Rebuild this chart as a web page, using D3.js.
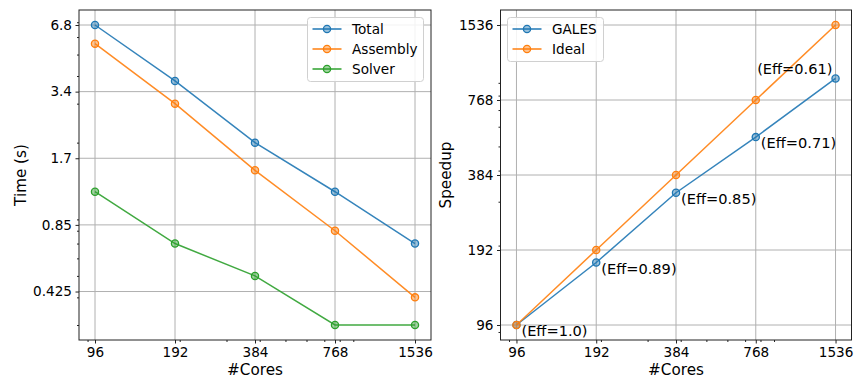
<!DOCTYPE html>
<html>
<head>
<meta charset="utf-8">
<script src="https://cdn.jsdelivr.net/npm/d3@7"></script>
<style>
  body { margin: 0; background: #fff; }
  text { font-family: "DejaVu Sans", sans-serif; fill: #000; }
</style>
</head>
<body>
<svg id="chart" width="862" height="381"></svg>
<script>
// data
const cores = [96, 192, 384, 768, 1536];
const coreLabels = ["96", "192", "384", "768", "1536"];

const totalTime = [6.8, 3.8, 2.0, 1.2, 0.7];
const assemblyTime = [5.6, 3.0, 1.5, 0.8, 0.4];
const solverTime = [1.2, 0.7, 0.5, 0.3, 0.3];
const timeTicks = [0.425, 0.85, 1.7, 3.4, 6.8];

const galesSpeedup = [96, 171, 326, 545, 937];
const idealSpeedup = [96, 192, 384, 768, 1536];
const speedupTicks = [96, 192, 384, 768, 1536];
const effLabels = ["(Eff=1.0)", "(Eff=0.89)", "(Eff=0.85)", "(Eff=0.71)", "(Eff=0.61)"];

const BLUE = "#1f77b4", ORANGE = "#ff7f0e", GREEN = "#2ca02c";
const TICK_FONT = 13.6;

var svg = d3.select("#chart");

// log margin like matplotlib (5% each side)
function logDomain(lo, hi) {
  var r = Math.pow(hi / lo, 0.05);
  return [lo / r, hi * r];
}

// base-10 minor ticks (2..9 per decade) inside a domain
function minorTicks(dom) {
  var out = [];
  for (var e = Math.floor(Math.log10(dom[0])) - 1; e <= Math.ceil(Math.log10(dom[1])); e++) {
    for (var k = 2; k <= 9; k++) {
      var v = k * Math.pow(10, e);
      if (v >= dom[0] && v <= dom[1]) out.push(v);
    }
  }
  return out;
}

function drawPanel(cfg) {
  var g = svg.append("g");
  var x = d3.scaleLog().domain(logDomain(cores[0], cores[cores.length - 1]))
    .range([cfg.left, cfg.right]);
  var yDom = logDomain(cfg.yMin, cfg.yMax);
  var y = d3.scaleLog().domain(yDom).range([cfg.bottom, cfg.top]);

  // grid
  g.append("g").selectAll("line").data(cores).join("line")
    .attr("x1", d => x(d)).attr("x2", d => x(d))
    .attr("y1", cfg.top).attr("y2", cfg.bottom)
    .attr("stroke", "#b0b0b0").attr("stroke-width", 1);
  g.append("g").selectAll("line").data(cfg.yTicks).join("line")
    .attr("y1", d => y(d)).attr("y2", d => y(d))
    .attr("x1", cfg.left).attr("x2", cfg.right)
    .attr("stroke", "#b0b0b0").attr("stroke-width", 1);

  // minor ticks
  var xMinor = d3.axisBottom(x).tickValues(minorTicks(x.domain())).tickSize(2).tickFormat("");
  var yMinor = d3.axisLeft(y).tickValues(minorTicks(yDom)).tickSize(2).tickFormat("");
  g.append("g").attr("transform", `translate(0,${cfg.bottom})`).call(xMinor);
  g.append("g").attr("transform", `translate(${cfg.left},0)`).call(yMinor);

  // major axes
  var xAxis = d3.axisBottom(x).tickValues(cores)
    .tickFormat((d, i) => coreLabels[i]).tickSize(3.5).tickPadding(3.5);
  var yAxis = d3.axisLeft(y).tickValues(cfg.yTicks)
    .tickFormat(cfg.yFormat).tickSize(3.5).tickPadding(3.5);
  g.append("g").attr("transform", `translate(0,${cfg.bottom})`).call(xAxis);
  g.append("g").attr("transform", `translate(${cfg.left},0)`).call(yAxis);
  g.selectAll(".domain").remove();
  g.selectAll(".tick line").attr("stroke", "#222");
  g.selectAll(".tick text").attr("font-size", TICK_FONT).attr("fill", "#000");

  // frame
  g.append("rect")
    .attr("x", cfg.left).attr("y", cfg.top)
    .attr("width", cfg.right - cfg.left).attr("height", cfg.bottom - cfg.top)
    .attr("fill", "none").attr("stroke", "#222").attr("stroke-width", 1);

  // series
  var line = d3.line().x(d => x(d[0])).y(d => y(d[1]));
  cfg.series.forEach(function (s) {
    var pts = cores.map((c, i) => [c, s.values[i]]);
    g.append("path").datum(pts).attr("d", line)
      .attr("fill", "none").attr("stroke", s.color)
      .attr("stroke-width", 1.5).attr("stroke-opacity", 0.9);
    g.append("g").selectAll("circle").data(pts).join("circle")
      .attr("cx", d => x(d[0])).attr("cy", d => y(d[1])).attr("r", 3.6)
      .attr("fill", s.color).attr("fill-opacity", 0.45)
      .attr("stroke", s.color).attr("stroke-width", 1.3);
  });

  // axis labels
  g.append("text")
    .attr("x", (cfg.left + cfg.right) / 2).attr("y", 375)
    .attr("text-anchor", "middle").attr("font-size", 15.2)
    .text("#Cores");
  g.append("text")
    .attr("transform", `translate(${cfg.yLabelX},175) rotate(-90)`)
    .attr("text-anchor", "middle").attr("font-size", 15.2)
    .text(cfg.yLabel);

  // legend
  var leg = g.append("g").attr("transform", `translate(${cfg.legendX},17.5)`);
  leg.append("rect")
    .attr("width", cfg.legendW).attr("height", 20 * cfg.series.length + 4)
    .attr("rx", 3).attr("fill", "#fff").attr("fill-opacity", 0.85)
    .attr("stroke", "#d0d0d0").attr("stroke-width", 1);
  cfg.series.forEach(function (s, i) {
    var ly = 11.5 + i * 20;
    leg.append("line").attr("x1", 5).attr("x2", 34).attr("y1", ly).attr("y2", ly)
      .attr("stroke", s.color).attr("stroke-width", 1.5);
    leg.append("circle").attr("cx", 19.5).attr("cy", ly).attr("r", 3.6)
      .attr("fill", s.color).attr("fill-opacity", 0.45)
      .attr("stroke", s.color).attr("stroke-width", 1.3);
    leg.append("text").attr("x", 44.5).attr("y", ly).attr("dy", "0.35em")
      .attr("font-size", TICK_FONT).text(s.name);
  });

  return { g: g, x: x, y: y };
}

// left: timings
drawPanel({
  left: 79, right: 431, top: 10, bottom: 340,
  yMin: d3.min(solverTime), yMax: d3.max(totalTime),
  yTicks: timeTicks, yFormat: d => String(d),
  yLabel: "Time (s)", yLabelX: 26,
  legendX: 307.5, legendW: 116,
  series: [
    { name: "Total", values: totalTime, color: BLUE },
    { name: "Assembly", values: assemblyTime, color: ORANGE },
    { name: "Solver", values: solverTime, color: GREEN }
  ]
});

// right: speedup
var right = drawPanel({
  left: 500.5, right: 851.5, top: 10, bottom: 340,
  yMin: d3.min(idealSpeedup), yMax: d3.max(idealSpeedup),
  yTicks: speedupTicks, yFormat: d => String(d),
  yLabel: "Speedup", yLabelX: 451,
  legendX: 507.5, legendW: 96,
  series: [
    { name: "GALES", values: galesSpeedup, color: BLUE },
    { name: "Ideal", values: idealSpeedup, color: ORANGE }
  ]
});

// efficiency notes next to GALES points
right.g.append("g").selectAll("text").data(effLabels).join("text")
  .attr("x", (d, i) => right.x(cores[i]) + (i === 4 ? -3 : 5))
  .attr("y", (d, i) => right.y(galesSpeedup[i]) + (i === 4 ? -10 : 6))
  .attr("dy", "0.35em")
  .attr("text-anchor", (d, i) => i === 4 ? "end" : "start")
  .attr("font-size", 14.6)
  .text(d => d);
</script>
</body>
</html>
